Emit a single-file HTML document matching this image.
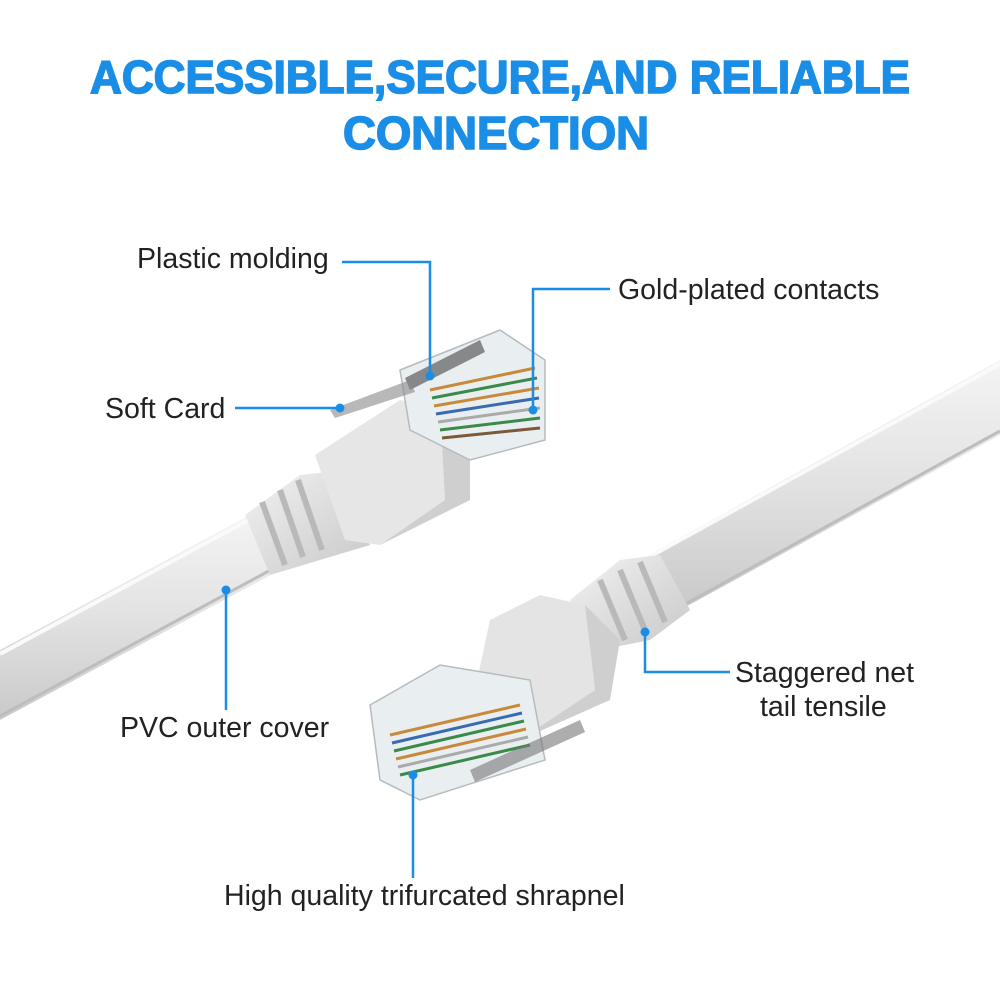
<!DOCTYPE html>
<html><head><meta charset="utf-8"><style>
html,body{margin:0;padding:0;background:#fff;}
svg{display:block;}
text{font-family:"Liberation Sans",Arial,sans-serif;}
</style></head><body>
<svg width="1000" height="1000" viewBox="0 0 1000 1000" xmlns="http://www.w3.org/2000/svg">
<defs>
<linearGradient id="cab" x1="0" y1="0" x2="0" y2="1">
<stop offset="0" stop-color="#f4f4f4"/><stop offset="0.5" stop-color="#e2e2e2"/><stop offset="1" stop-color="#c9c9c9"/>
</linearGradient>
<linearGradient id="boot" x1="0" y1="0" x2="1" y2="1">
<stop offset="0" stop-color="#f2f2f2"/><stop offset="1" stop-color="#c8c8c8"/>
</linearGradient>
</defs>
<text x="500" y="93" text-anchor="middle" font-size="46" font-weight="bold" fill="#1a8ee6" stroke="#1a8ee6" stroke-width="1.6" textLength="820" lengthAdjust="spacingAndGlyphs">ACCESSIBLE,SECURE,AND RELIABLE</text>
<text x="496" y="149" text-anchor="middle" font-size="46" font-weight="bold" fill="#1a8ee6" stroke="#1a8ee6" stroke-width="1.6" textLength="306" lengthAdjust="spacingAndGlyphs">CONNECTION</text>

<!-- left cable -->
<polygon points="0,650 250,515 280,570 0,720" fill="url(#cab)"/>
<line x1="0" y1="654" x2="252" y2="518" stroke="#fafafa" stroke-width="4"/>
<line x1="0" y1="716" x2="278" y2="566" stroke="#bdbdbd" stroke-width="3"/>
<!-- left boot -->
<polygon points="245,515 300,475 345,470 370,545 320,560 270,575" fill="url(#boot)"/>
<g stroke="#b9b9b9" stroke-width="6">
<line x1="262" y1="502" x2="285" y2="565"/><line x1="280" y1="490" x2="303" y2="557"/><line x1="298" y1="480" x2="322" y2="550"/>
</g>
<polygon points="315,455 400,400 440,410 445,500 380,545 345,540" fill="#e6e6e6"/>
<polygon points="380,545 445,500 440,410 470,420 470,500" fill="#cfcfcf"/>
<!-- left housing -->
<polygon points="400,370 500,330 545,360 545,440 470,460 410,430" fill="#e9eef0" stroke="#b4bcc0" stroke-width="1.5"/>
<g stroke-width="3">
<line x1="430" y1="390" x2="535" y2="368" stroke="#c88a3a"/>
<line x1="432" y1="398" x2="537" y2="378" stroke="#3a8a4a"/>
<line x1="434" y1="406" x2="539" y2="388" stroke="#c88a3a"/>
<line x1="436" y1="414" x2="539" y2="398" stroke="#3a6ab0"/>
<line x1="438" y1="422" x2="540" y2="408" stroke="#aaa"/>
<line x1="440" y1="430" x2="540" y2="418" stroke="#3a8a4a"/>
<line x1="442" y1="438" x2="540" y2="428" stroke="#7a5a3a"/>
</g>
<polygon points="405,378 480,340 485,352 410,390" fill="#444" opacity="0.6"/>
<polygon points="330,410 410,380 415,392 335,418" fill="#888" opacity="0.6"/>

<!-- right cable -->
<polygon points="640,560 1000,360 1000,435 680,610" fill="url(#cab)"/>
<line x1="640" y1="562" x2="1000" y2="364" stroke="#fafafa" stroke-width="4"/>
<line x1="680" y1="607" x2="1000" y2="431" stroke="#bdbdbd" stroke-width="3"/>
<!-- right boot -->
<polygon points="570,600 620,560 660,555 690,610 650,640 600,650" fill="url(#boot)"/>
<g stroke="#b9b9b9" stroke-width="6">
<line x1="600" y1="580" x2="625" y2="640"/><line x1="620" y1="570" x2="645" y2="630"/><line x1="640" y1="562" x2="665" y2="622"/>
</g>
<polygon points="490,620 540,595 585,605 595,690 520,740 475,690" fill="#e4e4e4"/>
<polygon points="520,740 595,690 585,605 620,640 610,700" fill="#cfcfcf"/>
<!-- right housing -->
<polygon points="370,705 440,665 530,680 545,760 420,800 380,780" fill="#e9eef0" stroke="#b4bcc0" stroke-width="1.5"/>
<g stroke-width="3">
<line x1="390" y1="735" x2="520" y2="705" stroke="#c88a3a"/>
<line x1="392" y1="743" x2="522" y2="713" stroke="#3a6ab0"/>
<line x1="394" y1="751" x2="524" y2="721" stroke="#3a8a4a"/>
<line x1="396" y1="759" x2="526" y2="729" stroke="#c88a3a"/>
<line x1="398" y1="767" x2="528" y2="737" stroke="#aaa"/>
<line x1="400" y1="775" x2="530" y2="745" stroke="#3a8a4a"/>
</g>
<polygon points="470,770 580,720 585,732 475,782" fill="#777" opacity="0.6"/>

<!-- callouts -->
<g stroke="#1a8ee6" stroke-width="2.5" fill="none">
<polyline points="342,262 430,262 430,376"/>
<polyline points="610,289 533,289 533,410"/>
<polyline points="235,408 340,408"/>
<polyline points="226,590 226,710"/>
<polyline points="730,672 645,672 645,632"/>
<polyline points="413,775 413,878"/>
</g>
<g fill="#1a8ee6">
<circle cx="430" cy="376" r="4.5"/><circle cx="533" cy="410" r="4.5"/><circle cx="340" cy="408" r="4.5"/>
<circle cx="226" cy="590" r="4.5"/><circle cx="645" cy="632" r="4.5"/><circle cx="413" cy="775" r="4.5"/>
</g>
<g font-size="28.5" fill="#222">
<text x="137" y="268">Plastic molding</text>
<text x="618" y="299">Gold-plated contacts</text>
<text x="105" y="418">Soft Card</text>
<text x="120" y="737">PVC outer cover</text>
<text x="735" y="682">Staggered net</text>
<text x="760" y="716">tail tensile</text>
<text x="224" y="905">High quality trifurcated shrapnel</text>
</g>
</svg>
</body></html>
